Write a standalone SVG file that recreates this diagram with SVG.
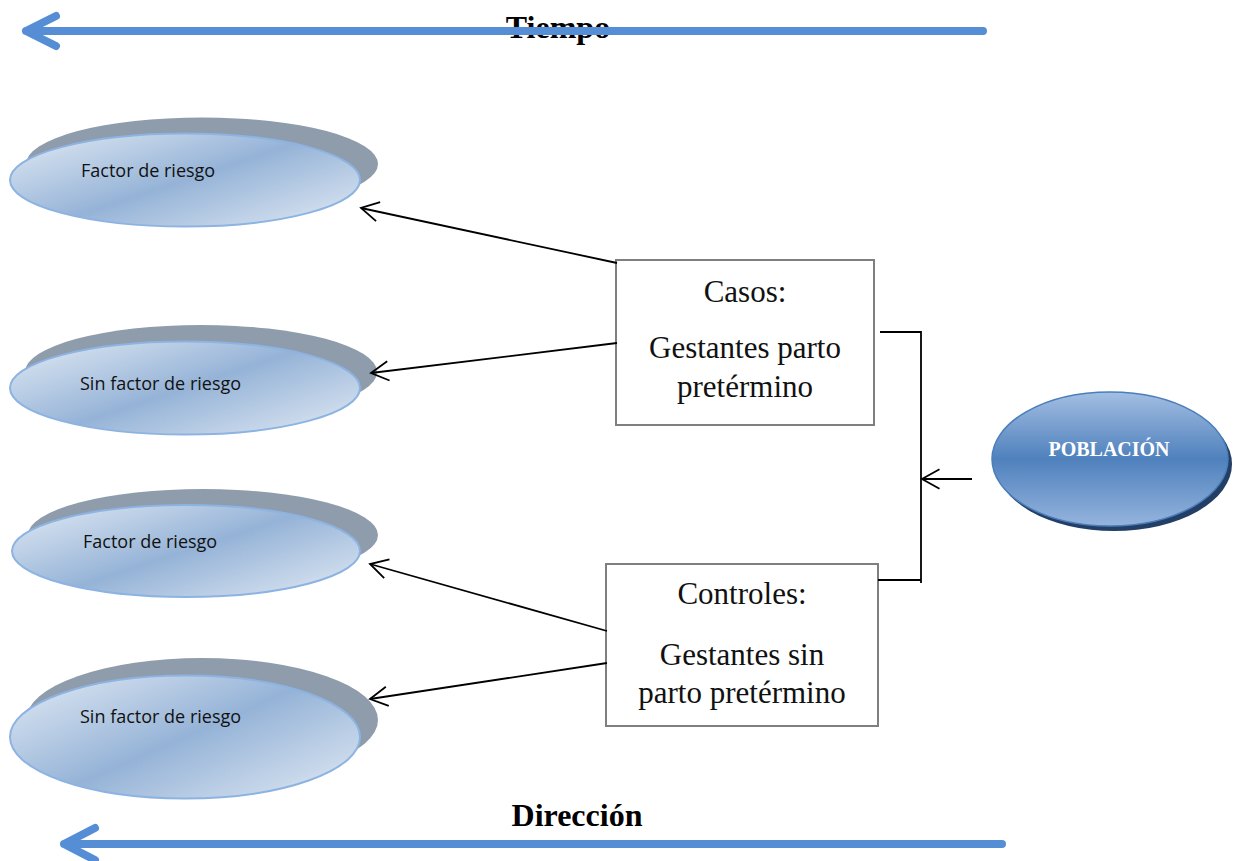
<svg xmlns="http://www.w3.org/2000/svg" width="1238" height="861" viewBox="0 0 1238 861">
<style>
.sh{fill:#8E9CAB}
.fe{fill:url(#fg);stroke:#8DB3E2;stroke-width:2}
.lbl{font-family:"Open Sans","Noto Sans",sans-serif;font-size:18px;fill:#111}
.box{fill:#fff;stroke:#7F7F7F;stroke-width:2}
.bt{font-family:"Liberation Serif","Times New Roman",serif;font-size:31px;fill:#111;text-anchor:middle}
.ln{fill:none;stroke:#000;stroke-width:1.8}
.con{fill:none;stroke:#000;stroke-width:1.8;marker-end:url(#ah)}
.blue{fill:none;stroke:#558ED5;stroke-width:8;stroke-linecap:round;stroke-linejoin:round}
.ttl{font-family:"Liberation Serif","Times New Roman",serif;font-size:32px;font-weight:bold;fill:#000;text-anchor:middle}
</style>
<defs>
<linearGradient id="fg" x1="0" y1="0.1" x2="1" y2="0.9">
<stop offset="0" stop-color="#DCE6F2"/>
<stop offset="0.5" stop-color="#95B3D7"/>
<stop offset="1" stop-color="#DCE6F2"/>
</linearGradient>
<linearGradient id="pg" x1="0" y1="0" x2="0" y2="1">
<stop offset="0" stop-color="#A3BEE2"/>
<stop offset="0.5" stop-color="#4F81BD"/>
<stop offset="1" stop-color="#95B4DD"/>
</linearGradient>
<marker id="ah" viewBox="-22 -12 24 24" refX="0" refY="0" markerWidth="24" markerHeight="24" markerUnits="userSpaceOnUse" orient="auto">
<path d="M-17.5,-9.7 L0,0 L-17.5,9.7" fill="none" stroke="#000" stroke-width="1.8"/>
</marker>
</defs>

<g id="tiempo">
<text class="ttl" x="558" y="38">Tiempo</text>
<path class="blue" d="M983,31 L26,31 M56,16 L26,31 L56,46"/>
</g>

<g id="direccion">
<path class="blue" d="M1002,844 L64,844 M95,828 L64,844 L95,860"/>
<text class="ttl" x="577" y="826">Dirección</text>
</g>

<g id="e1">
<ellipse class="sh" cx="202" cy="164" rx="176" ry="46.5"/>
<ellipse class="fe" cx="185" cy="180" rx="175" ry="46.5"/>
<text class="lbl" x="81" y="177">Factor de riesgo</text>
</g>

<g id="e2">
<ellipse class="sh" cx="201" cy="372" rx="176" ry="47"/>
<ellipse class="fe" cx="185" cy="388" rx="175" ry="46.5"/>
<text class="lbl" x="80" y="390">Sin factor de riesgo</text>
</g>

<g id="e3">
<ellipse class="sh" cx="203" cy="535" rx="175" ry="46"/>
<ellipse class="fe" cx="186" cy="551" rx="174" ry="46"/>
<text class="lbl" x="83" y="548">Factor de riesgo</text>
</g>

<g id="e4">
<ellipse class="sh" cx="202" cy="720" rx="176" ry="62"/>
<ellipse class="fe" cx="185" cy="737" rx="175" ry="61.5"/>
<text class="lbl" x="80" y="723">Sin factor de riesgo</text>
</g>

<g id="casos">
<rect class="box" x="616" y="260" width="258" height="165"/>
<text class="bt" x="745" y="302">Casos:</text>
<text class="bt" x="745" y="358">Gestantes parto</text>
<text class="bt" x="745" y="397">pretérmino</text>
</g>

<g id="controles">
<rect class="box" x="606" y="564" width="272" height="162"/>
<text class="bt" x="742" y="604">Controles:</text>
<text class="bt" x="742" y="665">Gestantes sin</text>
<text class="bt" x="742" y="703">parto pretérmino</text>
</g>

<g id="poblacion">
<ellipse cx="1114" cy="464" rx="118" ry="67" fill="#233F66"/>
<ellipse cx="1110" cy="459" rx="118" ry="67" fill="url(#pg)" stroke="#4A7EBB" stroke-width="1.5"/>
<text x="1109" y="456" font-family="Liberation Serif,Times New Roman,serif" font-size="20" font-weight="bold" fill="#fff" text-anchor="middle">POBLACIÓN</text>
</g>

<g id="connectors">
<path class="con" d="M617,263 L361,208"/>
<path class="con" d="M617,343 L371,373"/>
<path class="con" d="M607,631 L370,564"/>
<path class="con" d="M607,663 L370,699"/>
<path class="ln" d="M880,332 L921,332 L921,583 M878,580 L921,580"/>
<path class="con" d="M972,479 L922,479"/>
</g>
</svg>
